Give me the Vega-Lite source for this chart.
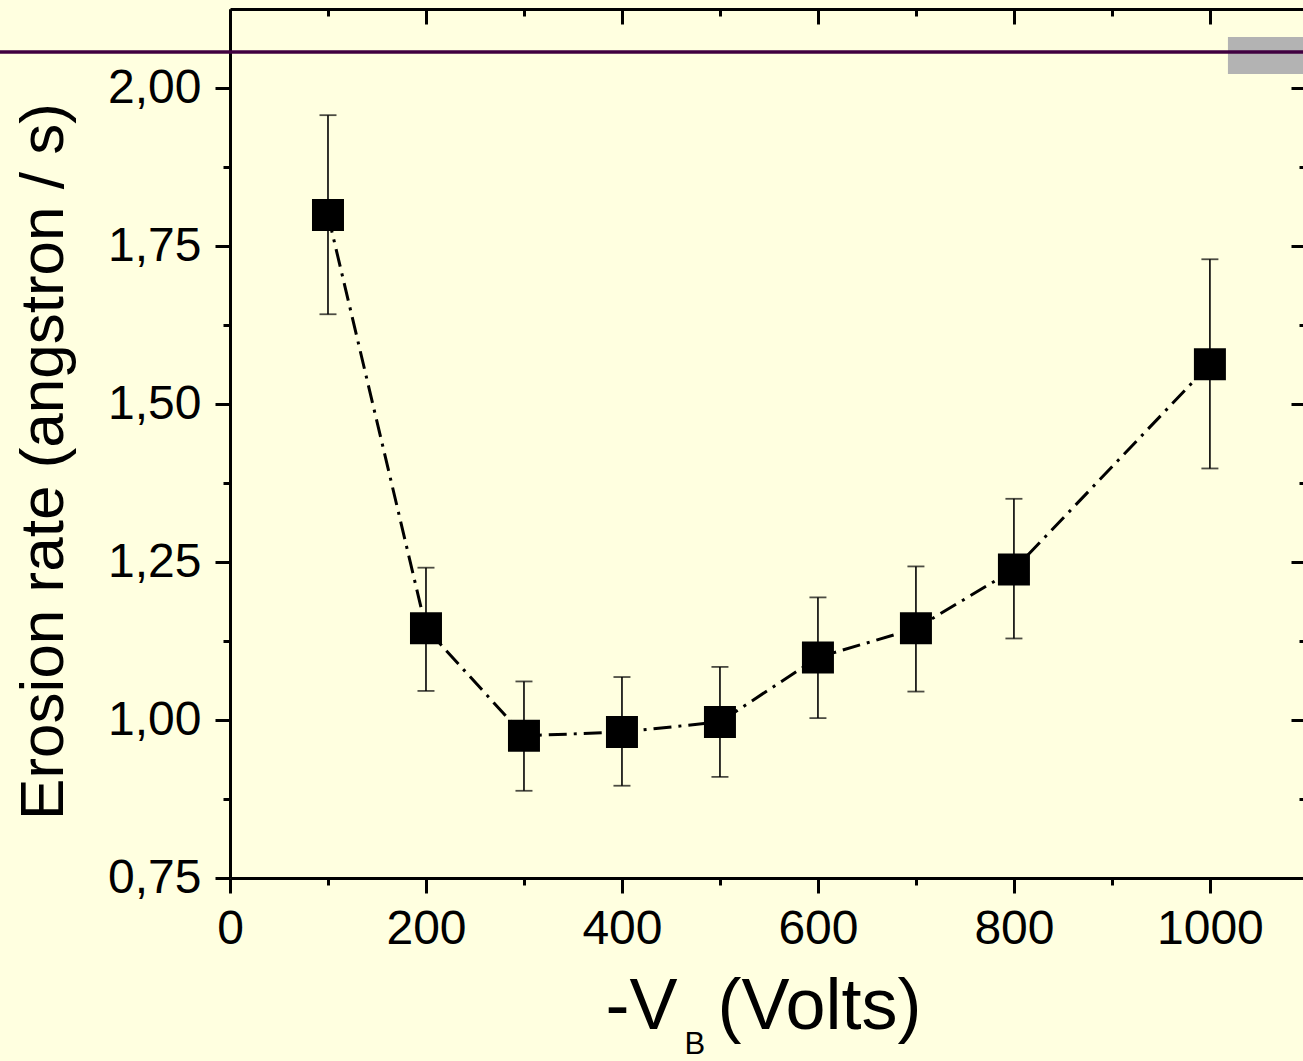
{
  "$schema": "https://vega.github.io/schema/vega-lite/v6.json",
  "width": 1073,
  "height": 869,
  "autosize": "none",
  "padding": {"left": 230, "top": 9, "right": 0, "bottom": 183},
  "background": "#ffffe0",
  "config": {
    "view": {"stroke": null},
    "axis": {
      "grid": false,
      "labelFont": "Liberation Sans",
      "titleFont": "Liberation Sans",
      "labelColor": "black",
      "titleColor": "black",
      "domainColor": "black",
      "tickColor": "black",
      "labelFontSize": 48,
      "titleFontWeight": "normal",
      "domainWidth": 3,
      "tickWidth": 3,
      "labelFlush": false,
      "labelOverlap": false
    }
  },
  "data": {
    "values": [
      {"v": 100, "rate": 1.799, "hi": 1.957, "lo": 1.642},
      {"v": 200, "rate": 1.145, "hi": 1.241, "lo": 1.046},
      {"v": 300, "rate": 0.975, "hi": 1.061, "lo": 0.888},
      {"v": 400, "rate": 0.981, "hi": 1.068, "lo": 0.896},
      {"v": 500, "rate": 0.997, "hi": 1.084, "lo": 0.910},
      {"v": 600, "rate": 1.099, "hi": 1.194, "lo": 1.003},
      {"v": 700, "rate": 1.145, "hi": 1.243, "lo": 1.045},
      {"v": 800, "rate": 1.238, "hi": 1.350, "lo": 1.129},
      {"v": 1000, "rate": 1.563, "hi": 1.729, "lo": 1.398}
    ]
  },
  "resolve": {"axis": {"x": "independent", "y": "independent"}},
  "layer": [
    {
      "data": {"values": [{}]},
      "mark": {"type": "rect", "color": "#b3b3b3"},
      "encoding": {
        "x": {"datum": 1018.4, "type": "quantitative", "scale": {"domain": [0, 1095], "nice": false, "zero": false}, "axis": null},
        "x2": {"datum": 1095},
        "y": {"datum": 2.0807, "type": "quantitative", "scale": {"domain": [0.75, 2.125], "nice": false, "zero": false}, "axis": null},
        "y2": {"datum": 2.0222}
      }
    },
    {
      "data": {"values": [{}]},
      "mark": {"type": "rule", "color": "#400040", "strokeWidth": 3.5},
      "encoding": {
        "x": {"datum": -236, "type": "quantitative", "scale": {"domain": [0, 1095], "nice": false, "zero": false}, "axis": null},
        "x2": {"datum": 1095},
        "y": {"datum": 2.057, "type": "quantitative", "scale": {"domain": [0.75, 2.125], "nice": false, "zero": false}, "axis": null}
      }
    },
    {
      "mark": {"type": "rule", "color": "black", "strokeWidth": 1.6},
      "encoding": {
        "x": {
          "field": "v", "type": "quantitative",
          "scale": {"domain": [0, 1095], "nice": false, "zero": false},
          "axis": {
            "orient": "bottom",
            "values": [0, 200, 400, 600, 800, 1000],
            "format": "d",
            "tickSize": 15,
            "labelPadding": 12,
            "title": "-V\u00a0\u00a0(Volts)",
            "titleFontSize": 72,
            "titleAlign": "left",
            "titleBaseline": "alphabetic",
            "titleX": 375,
            "titleY": 150
          }
        },
        "y": {
          "field": "lo", "type": "quantitative",
          "scale": {"domain": [0.75, 2.125], "nice": false, "zero": false},
          "axis": {
            "orient": "left",
            "values": [0.75, 1.0, 1.25, 1.5, 1.75, 2.0],
            "tickSize": 15,
            "labelPadding": 14,
            "labelExpr": "replace(format(datum.value, '.2f'), '.', ',')",
            "title": "Erosion rate (angstron / s)",
            "titleFontSize": 62,
            "titleAngle": -90,
            "titleAlign": "center",
            "titleBaseline": "alphabetic",
            "titleX": -168,
            "titleY": 452
          }
        },
        "y2": {"field": "hi"}
      }
    },
    {
      "mark": {"type": "tick", "orient": "horizontal", "color": "black", "size": 17, "thickness": 1.8},
      "encoding": {
        "x": {
          "field": "v", "type": "quantitative",
          "scale": {"domain": [0, 1095], "nice": false, "zero": false},
          "axis": {"orient": "bottom", "values": [100, 300, 500, 700, 900], "tickSize": 7, "labels": false, "domain": false, "title": null}
        },
        "y": {
          "field": "hi", "type": "quantitative",
          "scale": {"domain": [0.75, 2.125], "nice": false, "zero": false},
          "axis": {"orient": "left", "values": [0.875, 1.125, 1.375, 1.625, 1.875], "tickSize": 7, "labels": false, "domain": false, "title": null}
        }
      }
    },
    {
      "mark": {"type": "tick", "orient": "horizontal", "color": "black", "size": 17, "thickness": 1.8},
      "encoding": {
        "x": {
          "field": "v", "type": "quantitative",
          "scale": {"domain": [0, 1095], "nice": false, "zero": false},
          "axis": {"orient": "top", "values": [0, 200, 400, 600, 800, 1000], "tickSize": -15, "labels": false, "domain": true, "title": null}
        },
        "y": {
          "field": "lo", "type": "quantitative",
          "scale": {"domain": [0.75, 2.125], "nice": false, "zero": false},
          "axis": {"orient": "right", "values": [0.75, 1.0, 1.25, 1.5, 1.75, 2.0], "tickSize": -12, "labels": false, "domain": false, "title": null}
        }
      }
    },
    {
      "mark": {"type": "line", "color": "black", "strokeWidth": 3, "strokeDash": [18, 7, 3, 7]},
      "encoding": {
        "x": {
          "field": "v", "type": "quantitative",
          "scale": {"domain": [0, 1095], "nice": false, "zero": false},
          "axis": {"orient": "top", "values": [100, 300, 500, 700, 900], "tickSize": -7, "labels": false, "domain": false, "title": null}
        },
        "y": {
          "field": "rate", "type": "quantitative",
          "scale": {"domain": [0.75, 2.125], "nice": false, "zero": false},
          "axis": {"orient": "right", "values": [0.875, 1.125, 1.375, 1.625, 1.875], "tickSize": -4, "labels": false, "domain": false, "title": null}
        },
        "order": {"field": "v", "type": "quantitative"}
      }
    },
    {
      "mark": {"type": "square", "color": "black", "filled": true, "opacity": 1, "size": 1024},
      "encoding": {
        "x": {"field": "v", "type": "quantitative", "scale": {"domain": [0, 1095], "nice": false, "zero": false}, "axis": null},
        "y": {"field": "rate", "type": "quantitative", "scale": {"domain": [0.75, 2.125], "nice": false, "zero": false}, "axis": null}
      }
    },
    {
      "data": {"values": [{"t": "B"}]},
      "mark": {"type": "text", "font": "Liberation Sans", "fontSize": 31, "color": "black", "align": "center", "baseline": "alphabetic"},
      "encoding": {
        "text": {"field": "t"},
        "x": {"datum": 474.5, "type": "quantitative", "scale": {"domain": [0, 1095], "nice": false, "zero": false}, "axis": null},
        "y": {"datum": 0.4715, "type": "quantitative", "scale": {"domain": [0.75, 2.125], "nice": false, "zero": false}, "axis": null}
      }
    }
  ]
}
